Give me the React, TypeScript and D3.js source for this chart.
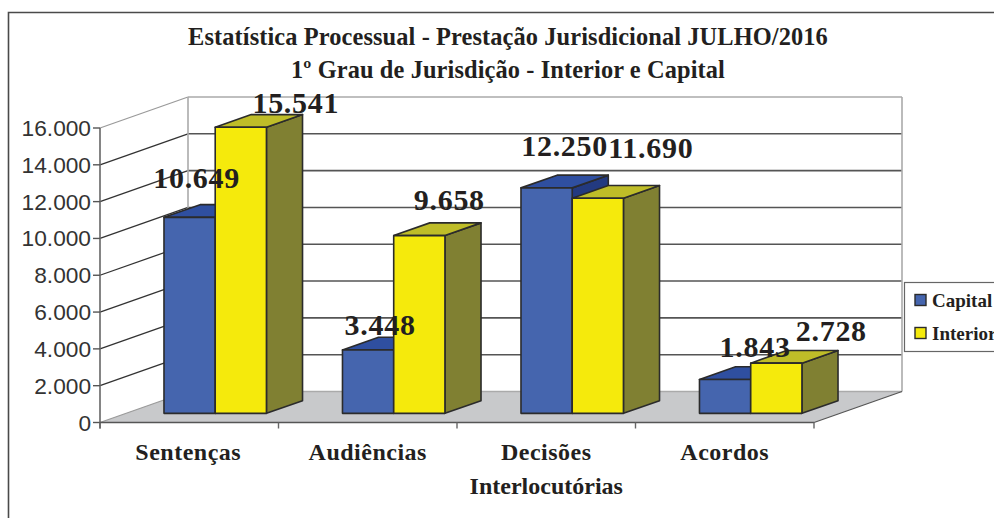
import React from "react";
import * as d3 from "d3";

const categories = ["Sentenças", "Audiências", "Decisões", "Acordos"];
const capital = [10649, 3448, 12250, 1843];
const interior = [15541, 9658, 11690, 2728];
const seriesNames = ["Capital", "Interior"];
const yTicks = [0, 2000, 4000, 6000, 8000, 10000, 12000, 14000, 16000];
const titleLines = ["Estatística Processual - Prestação Jurisdicional JULHO/2016", "1º Grau de Jurisdição - Interior e Capital"];

const palette = [
  { front: "#4565AE", top: "#2F4FA0", side: "#233A80" },
  { front: "#F5EA0C", top: "#BFBD28", side: "#808032" },
];
const INK = "#231F20";
const EDGE = "#2b2b2b";
const SERIF = "'Liberation Serif', serif";
const SANS = "'Liberation Sans', sans-serif";

// hand-placed label offsets in the original (dx from bar centre, dy from bar top)
const labelOffsets = [
  [[7, -29], [55, -14]],
  [[12, -15], [30, -26]],
  [[18, -32], [53, -40]],
  [[30, -22], [55, -22]],
];

const DX = 88, DY = -31;
const x = d3.scaleBand<string>().domain(categories).range([100, 814]);
const y = d3.scaleLinear().domain([0, 16000]).range([422.5, 128]);
const fmt = (v: number) => d3.format(",")(v).replace(/,/g, ".");

const poly = (pts: number[][]) => pts.map((p) => p.join(",")).join(" ");

export default function App() {
  const x0 = x.range()[0], x1 = x.range()[1];
  const y0 = y(0), yTop = y(16000);
  const band = x.bandwidth();
  const barW = band * 0.287;
  const tFront = 0.295, tBack = 0.705;
  const bars: React.ReactNode[] = [];
  const labels: React.ReactNode[] = [];
  categories.forEach((c, i) => {
    [capital[i], interior[i]].forEach((v, s) => {
      const cx = x(c)! + band / 2 + tFront * DX;
      const left = cx + (s - 1) * barW;
      const right = left + barW;
      const base = y(0) + tFront * DY;
      const top = y(v) + tFront * DY;
      const dx = (tBack - tFront) * DX, dy = (tBack - tFront) * DY;
      const col = palette[s];
      bars.push(
        <g key={c + s} stroke={EDGE} strokeWidth={1.6} strokeLinejoin="round">
          <polygon points={poly([[right, base], [right + dx, base + dy], [right + dx, top + dy], [right, top]])} fill={col.side} />
          <polygon points={poly([[left, top], [right, top], [right + dx, top + dy], [left + dx, top + dy]])} fill={col.top} />
          <rect x={left} y={top} width={barW} height={base - top} fill={col.front} />
        </g>
      );
      const [ox, oy] = labelOffsets[i][s];
      labels.push(
        <text key={"l" + c + s} x={left + barW / 2 + ox} y={top + oy} textAnchor="middle"
          fontFamily={SERIF} fontWeight="bold" fontSize={30} letterSpacing={0.7} fill={INK}>{fmt(v)}</text>
      );
    });
  });
  return (
    <svg width={994} height={518} viewBox="0 0 994 518" style={{ position: "fixed", left: 0, top: 0, display: "block" }}>
      <rect width={994} height={518} fill="#fff" />
      <path d="M8.5,518V12.5H994" fill="none" stroke="#4a4a4a" strokeWidth={1.6} />
      {titleLines.map((t, i) => (
        <text key={t} x={508} y={45 + i * 33} textAnchor="middle" fontFamily={SERIF} fontWeight="bold" fontSize={24.4} letterSpacing={0.1} fill={INK}>{t}</text>
      ))}
      {/* floor */}
      <polygon points={poly([[x0, y0], [x1, y0], [x1 + DX, y0 + DY], [x0 + DX, y0 + DY]])} fill="#C8C9CB" />
      {/* walls */}
      {yTicks.map((t) => {
        const yy = y(t);
        const muted = t === 16000 || t === 0;
        return (
          <g key={t} fill="none" strokeWidth={1.3}>
            <line x1={x0} y1={yy} x2={x0 + DX} y2={yy + DY} stroke={muted ? "#9a9a9a" : "#333"} />
            <line x1={x0 + DX} y1={yy + DY} x2={x1 + DX} y2={yy + DY} stroke={muted ? "#aaaaaa" : "#555"} strokeWidth={1.6} />
          </g>
        );
      })}
      <line x1={x0 + DX} y1={yTop + DY} x2={x0 + DX} y2={y0 + DY} stroke="#aaaaaa" strokeWidth={1.6} />
      <line x1={x1 + DX} y1={yTop + DY} x2={x1 + DX} y2={y0 + DY} stroke="#aaaaaa" strokeWidth={1.6} />
      <line x1={x1} y1={y0} x2={x1 + DX} y2={y0 + DY} stroke="#555" strokeWidth={1.2} />
      {/* axes */}
      <line x1={x0} y1={yTop} x2={x0} y2={y0 + 6} stroke="#666" strokeWidth={1.6} />
      <line x1={x0} y1={y0} x2={x1} y2={y0} stroke="#555" strokeWidth={1.6} />
      {yTicks.map((t) => (
        <g key={"t" + t}>
          <line x1={x0 - 7} y1={y(t)} x2={x0} y2={y(t)} stroke="#555" strokeWidth={1.4} />
          <text x={91} y={y(t) + 8} textAnchor="end" fontFamily={SANS} fontSize={22.7} fill="#333">{fmt(t)}</text>
        </g>
      ))}
      {[...categories.map((c) => x(c)!), x1].map((v) => (
        <line key={v} x1={v} y1={y0} x2={v} y2={y0 + 6} stroke="#666" strokeWidth={1.4} />
      ))}
      {bars}
      {labels}
      {categories.map((c) => (
        <text key={c} x={x(c)! + band / 2 - (c === "Sentenças" ? 1 : 0)} y={460} textAnchor="middle" fontFamily={SERIF} fontWeight="bold" fontSize={24} letterSpacing={0.5} fill={INK}>{c}</text>
      ))}
      <text x={x("Decisões")! + band / 2} y={494} textAnchor="middle" fontFamily={SERIF} fontWeight="bold" fontSize={24} fill={INK}>Interlocutórias</text>
      {/* legend */}
      <rect x={904.5} y={282.5} width={120} height={69} fill="#fff" stroke="#666" strokeWidth={1.2} />
      {seriesNames.map((n, i) => (
        <g key={n}>
          <rect x={915} y={294.5 + i * 33} width={11} height={11} fill={palette[i].front} stroke={EDGE} strokeWidth={1.4} />
          <text x={932} y={307 + i * 33} fontFamily={SERIF} fontWeight="bold" fontSize={19} fill={INK}>{n}</text>
        </g>
      ))}
    </svg>
  );
}
